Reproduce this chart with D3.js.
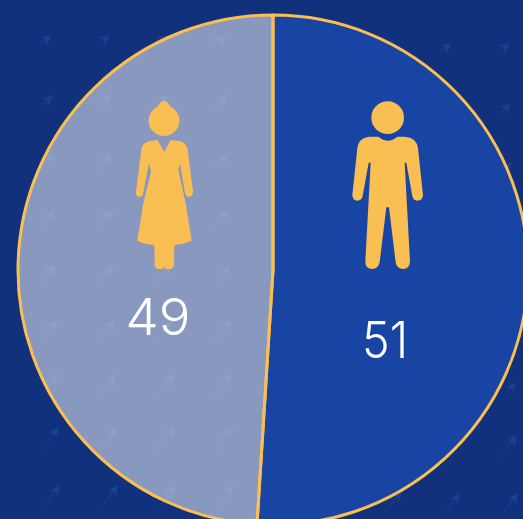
<!DOCTYPE html>
<html>
<head>
<meta charset="utf-8">
<script src="https://cdn.jsdelivr.net/npm/d3@7"></script>
<style>
html,body{margin:0;padding:0;background:#12317c;overflow:hidden}
svg{display:block}
</style>
</head>
<body>
<script>
const categories = ["Female", "Male"];
const values = [49, 51];
const labels = ["49", "51"];
const arrowColumns = [52, 110, 168, 226, 284, 342, 394, 452, 510];
const arrowRows = [35, 95, 154, 210, 265, 320, 374, 427, 485];

const W = 523, H = 519, cx = 273, cy = 270, R = 255;
const yellow = "#fabf53";

const svg = d3.select("body").append("svg").attr("width", W).attr("height", H);
svg.append("rect").attr("width", W).attr("height", H).attr("fill", "#12317c");

const defs = svg.append("defs");
const grad = defs.append("linearGradient").attr("id", "shaft")
  .attr("x1", 1).attr("y1", 0).attr("x2", 0).attr("y2", 1);
grad.append("stop").attr("offset", 0).attr("stop-color", "#21499f").attr("stop-opacity", 0.55);
grad.append("stop").attr("offset", 1).attr("stop-color", "#21499f").attr("stop-opacity", 0);
defs.append("filter").attr("id", "soft").append("feGaussianBlur").attr("stdDeviation", 0.6);

// background arrows
const lenY = d3.scaleLinear().domain([30, 490]).range([13, 33]);
const lenX = d3.scaleLinear().domain([30, 490]).range([17, 23]);
const shiftX = d3.scaleLinear().domain([30, 490]).range([0, 8]);
const shiftY = d3.scaleLinear().domain([300, 450]).range([0, 8]).clamp(true);
const bg = svg.append("g").attr("filter", "url(#soft)");
arrowRows.forEach(y => arrowColumns.forEach(x => {
  const g = bg.append("g").attr("transform", `translate(${x + shiftX(y)},${y + shiftY(x)})`);
  const dx = lenX(y), dy = lenY(y);
  const a = Math.atan2(dy, dx);
  g.append("line").attr("x1", -3).attr("y1", 3).attr("x2", -dx).attr("y2", dy)
    .attr("stroke", "url(#shaft)").attr("stroke-width", 1.6);
  const p = (l, s) => [-l * Math.cos(a) + s * Math.sin(a), l * Math.sin(a) + s * Math.cos(a)];
  g.append("path").attr("d", "M0,0L" + p(11, 5.5) + "L" + p(8, 0) + "L" + p(11, -5.5) + "Z")
    .attr("fill", "#21499f").attr("opacity", 0.5);
}));

// pie
const pie = d3.pie().sort(null).value(d => d.v)
  .startAngle(2 * Math.PI).endAngle(0);
const arc = d3.arc().innerRadius(0).outerRadius(R);
const rows = categories.map((c, i) => ({ c, v: values[i], label: labels[i] }));
const color = d3.scaleOrdinal().domain(categories).range(["#ffffff", "#1844a3"]);
const alpha = d3.scaleOrdinal().domain(categories).range([0.5, 1]);
const pg = svg.append("g").attr("transform", `translate(${cx},${cy})`);
const arcs = pie(rows);
pg.selectAll("path.fill").data(arcs).join("path").attr("class", "fill")
  .attr("d", arc).attr("fill", d => color(d.data.c)).attr("fill-opacity", d => alpha(d.data.c));
pg.selectAll("path.edge").data(arcs).join("path").attr("class", "edge")
  .attr("d", arc).attr("fill", "none").attr("stroke", yellow).attr("stroke-width", 3)
  .attr("stroke-linejoin", "round");

// value labels
const labelPos = d3.scaleOrdinal().domain(categories).range([[158, 335], [385, 358]]);
const labelWidth = d3.scaleOrdinal().domain(categories).range([65, 46]);
svg.selectAll("text.val").data(rows).join("text").attr("class", "val")
  .attr("x", d => labelPos(d.c)[0]).attr("y", d => labelPos(d.c)[1])
  .attr("text-anchor", "middle").attr("fill", "#fff")
  .attr("font-family", "Inter, Lato, sans-serif").attr("font-weight", 300)
  .attr("font-size", 51)
  .attr("textLength", d => labelWidth(d.c)).attr("lengthAdjust", "spacingAndGlyphs")
  .text(d => d.label);

// pictograms
const woman = svg.append("g").attr("transform", "translate(120,90) scale(0.3333)").attr("fill", yellow);
woman.append("circle").attr("cx", 132).attr("cy", 92).attr("r", 46);
woman.append("circle").attr("cx", 132).attr("cy", 50).attr("r", 17);
woman.append("path").attr("d", "M64 180Q66 158 90 153L112 150L133 185L152 150L178 153Q200 158 203 180L219 305Q218 320 207 320Q197 320 195 308L180 220L175 240L197 340L215 452Q190 463 163 465L162 525Q160 537 148 537L138 537L133 530L128 537L115 537Q105 537 104 525L103 465Q75 463 52 452L70 340L93 245L87 220L70 308Q68 320 58 320Q47 320 48 305Z");
const man = svg.append("g").attr("transform", "translate(340,90) scale(0.3333)").attr("fill", yellow);
man.append("circle").attr("cx", 143).attr("cy", 83).attr("r", 49);
man.append("path").attr("d", "M52 175Q55 142 92 140L115 140Q130 152 143 152Q158 152 172 140L195 140Q230 142 234 175L249 315Q248 332 232 332Q220 332 217 318L199 218L194 218L210 515Q208 537 190 537Q170 537 167 517L147 352L139 352L119 517Q115 537 97 537Q76 537 76 515L92 218L86 218L68 318Q65 332 52 332Q38 332 37 315Z");
</script>
</body>
</html>
